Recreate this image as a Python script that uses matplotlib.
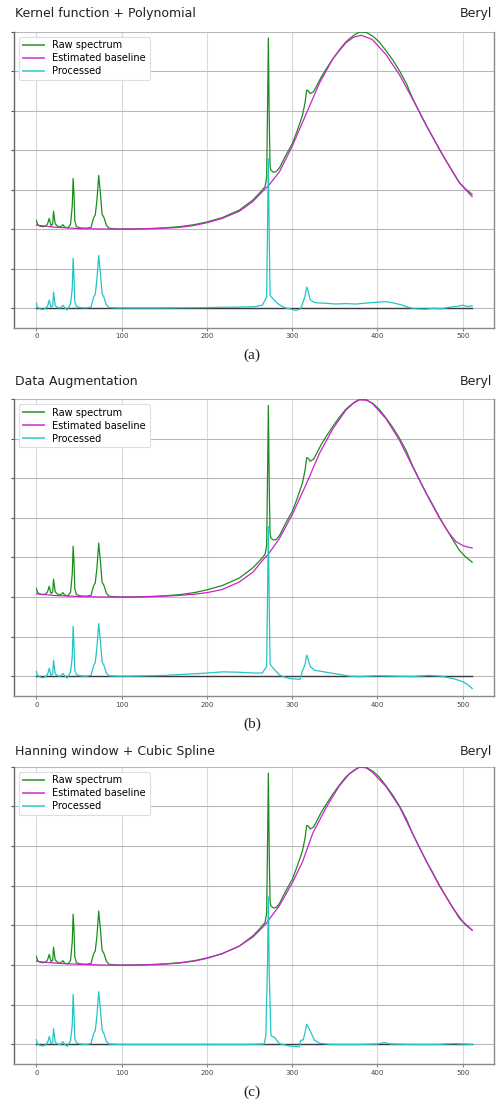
import matplotlib.pyplot as plt

# ---- data (x = channel index, y = intensity in grid units)
raw_x = [0, 1, 4, 8, 11, 13, 15, 17, 19, 20, 22, 25, 28, 31, 33, 37, 40, 42, 43, 44,
         45, 47, 51, 58, 64, 67, 69, 71, 73, 75, 77, 79, 82, 85, 95, 110, 130, 150,
         168, 185, 200, 218, 238, 254, 262, 268, 270, 271, 272, 273, 274, 275, 278,
         281, 285, 292, 300, 306, 312, 315, 317, 319, 321, 325, 328, 334, 340, 348,
         355, 362, 367, 373, 379, 387, 395, 402, 410, 418, 426, 434, 441, 449, 457,
         465, 473, 481, 488, 496, 503, 511]
raw_y = [2.22, 2.12, 2.07, 2.06, 2.08, 2.13, 2.27, 2.09, 2.12, 2.45, 2.13, 2.07, 2.05,
         2.11, 2.05, 2.03, 2.12, 2.6, 3.28, 2.9, 2.2, 2.06, 2.03, 2.02, 2.04, 2.28,
         2.36, 2.75, 3.36, 2.9, 2.37, 2.3, 2.1, 2.02, 2.0, 2.0, 2.01, 2.03, 2.06, 2.11,
         2.18, 2.29, 2.48, 2.74, 2.92, 3.07, 3.3, 5.0, 6.84, 4.8, 3.6, 3.49, 3.44,
         3.45, 3.55, 3.85, 4.16, 4.5, 4.88, 5.2, 5.52, 5.5, 5.43, 5.48, 5.6, 5.85,
         6.06, 6.32, 6.53, 6.72, 6.82, 6.92, 6.99, 6.98, 6.88, 6.74, 6.52, 6.28, 6.0,
         5.68, 5.32, 4.97, 4.63, 4.32, 4.0, 3.71, 3.46, 3.18, 3.02, 2.88]

base_a_x = [0, 20, 50, 80, 110, 140, 167, 185, 200, 218, 238, 254, 265, 273, 285, 300,
            316, 332, 348, 363, 372, 381, 394, 410, 426, 441, 457, 465, 481, 496, 511]
base_a_y = [2.1, 2.05, 2.01, 2.0, 2.0, 2.01, 2.04, 2.09, 2.16, 2.27, 2.45, 2.7, 2.95,
            3.12, 3.45, 4.1, 4.9, 5.7, 6.33, 6.72, 6.86, 6.91, 6.8, 6.42, 5.9, 5.3,
            4.64, 4.32, 3.71, 3.17, 2.82]

base_b_x = [0, 20, 50, 80, 110, 140, 167, 185, 200, 218, 238, 254, 267, 272, 285, 300,
            316, 332, 348, 363, 372, 379, 387, 394, 410, 426, 441, 457, 472, 484, 492,
            500, 506, 511]
base_b_y = [2.08, 2.04, 2.01, 2.0, 2.0, 2.01, 2.04, 2.07, 2.11, 2.19, 2.38, 2.63, 2.97,
            3.08, 3.48, 4.08, 4.83, 5.63, 6.26, 6.72, 6.9, 6.98, 6.97, 6.89, 6.5, 5.95,
            5.3, 4.62, 4.02, 3.61, 3.4, 3.3, 3.26, 3.24]

base_c_x = [0, 10, 30, 50, 80, 110, 140, 167, 185, 200, 218, 238, 254, 262, 269, 285,
            300, 312, 317, 324, 340, 355, 367, 379, 387, 394, 410, 426, 441, 457, 472,
            488, 500, 511]
base_c_y = [2.1, 2.07, 2.04, 2.02, 2.0, 2.0, 2.01, 2.05, 2.1, 2.17, 2.29, 2.48, 2.71,
            2.88, 3.04, 3.5, 4.07, 4.6, 4.9, 5.32, 5.98, 6.51, 6.82, 6.99, 6.97, 6.86,
            6.5, 5.98, 5.32, 4.63, 4.02, 3.45, 3.1, 2.88]

# processed: low-channel peaks are the same in all three panels
proc_left_x = [0, 1, 4, 8, 11, 13, 15, 17, 19, 20, 22, 25, 28, 31, 33, 36, 40, 42, 43,
               44, 45, 47, 51, 58, 64, 67, 69, 71, 73, 75, 77, 79, 82, 85, 95]
proc_left_y = [0.12, 0.02, -0.02, -0.04, 0.0, 0.05, 0.2, 0.02, 0.05, 0.4, 0.06, 0.01,
               0.0, 0.07, 0.01, -0.05, 0.1, 0.5, 1.26, 0.8, 0.15, 0.04, 0.01, 0.0, 0.02,
               0.27, 0.35, 0.75, 1.33, 0.88, 0.36, 0.28, 0.08, 0.01, 0.0]

proc_a_x = [150, 200, 230, 255, 265, 270, 271, 272, 273, 274, 277, 281, 285, 292, 297,
            304, 310, 313, 315, 317, 319, 321, 325, 328, 340, 350, 363, 375, 390, 402,
            410, 418, 428, 437, 445, 455, 465, 475, 485, 493, 500, 505, 511]
proc_a_y = [0.0, 0.01, 0.02, 0.03, 0.07, 0.28, 2.0, 3.78, 1.8, 0.32, 0.24, 0.15, 0.08,
            0.0, -0.02, -0.06, -0.02, 0.17, 0.3, 0.53, 0.4, 0.21, 0.15, 0.13, 0.12,
            0.1, 0.11, 0.1, 0.13, 0.15, 0.16, 0.13, 0.08, 0.01, -0.02, -0.03, -0.01,
            -0.02, 0.02, 0.04, 0.07, 0.04, 0.05]

proc_b_x = [110, 130, 150, 167, 185, 200, 218, 238, 254, 265, 270, 271, 272, 273, 274,
            279, 285, 292, 297, 304, 309, 312, 315, 317, 319, 321, 326, 332, 340, 351,
            360, 367, 380, 400, 420, 440, 460, 475, 484, 492, 500, 505, 511]
proc_b_y = [0.0, 0.01, 0.02, 0.04, 0.06, 0.08, 0.11, 0.1, 0.08, 0.08, 0.25, 2.0, 3.78,
            1.8, 0.3, 0.17, 0.03, -0.03, -0.06, -0.07, -0.08, 0.13, 0.3, 0.53, 0.4,
            0.25, 0.15, 0.13, 0.1, 0.06, 0.03, 0.0, -0.01, 0.01, 0.0, -0.01, 0.02, 0.0,
            -0.04, -0.08, -0.14, -0.2, -0.31]

proc_c_x = [110, 150, 200, 250, 267, 269, 271, 272, 273, 275, 279, 285, 297, 304, 308,
            310, 313, 315, 317, 320, 326, 332, 345, 380, 400, 408, 415, 440, 470, 490,
            511]
proc_c_y = [0.0, 0.0, 0.0, 0.0, 0.01, 0.22, 2.0, 3.72, 1.8, 0.22, 0.18, 0.02, -0.04,
            -0.05, -0.06, 0.1, 0.12, 0.3, 0.51, 0.39, 0.11, 0.03, 0.0, 0.0, 0.01, 0.05,
            0.01, 0.0, 0.0, 0.02, 0.0]

titles = ['Kernel function + Polynomial', 'Data Augmentation',
          'Hanning window + Cubic Spline']
captions = ['(a)', '(b)', '(c)']
sample = 'Beryl'
x_ticks = [0, 100, 200, 300, 400, 500]
y_ticks = [0, 1, 2, 3, 4, 5, 6, 7]

baselines = [(base_a_x, base_a_y), (base_b_x, base_b_y), (base_c_x, base_c_y)]
processed = [(proc_left_x + proc_a_x, proc_left_y + proc_a_y),
             (proc_left_x + proc_b_x, proc_left_y + proc_b_y),
             (proc_left_x + proc_c_x, proc_left_y + proc_c_y)]

W, H = 501, 1106
fig = plt.figure(figsize=(W / 100, H / 100), dpi=100)

# axes boxes in pixels: (top, bottom), plus title and caption rows
boxes = [(31.7, 327.7), (399, 696), (766.7, 1064.3)]
title_rows = [13, 382, 752]
caption_rows = [355, 724, 1092]
left_px, right_px = 14.3, 494.3

for ii in range(3):
    top, bottom = boxes[ii]
    ax = fig.add_axes([left_px / W, 1 - bottom / H, (right_px - left_px) / W,
                       (bottom - top) / H])

    ax.plot([0, 511], [0, 0], color='#3a3a3a', lw=1.0, zorder=2)
    ax.plot(raw_x, raw_y, color='#1c8c1c', lw=0.9, label='Raw spectrum', zorder=3)
    bx, by = baselines[ii]
    ax.plot(bx, by, color='#cc22cc', lw=0.9, label='Estimated baseline', zorder=4)
    px, py = processed[ii]
    ax.plot(px, py, color='#22c4c8', lw=0.9, label='Processed', zorder=5)

    ax.set_xlim(-26, 537)
    ax.set_ylim(-0.5, 7.0)
    ax.set_xticks(x_ticks)
    ax.set_yticks(y_ticks)
    ax.set_yticklabels([])
    ax.tick_params(axis='x', labelsize=5, length=2, color='#888888',
                   labelcolor='#444444', pad=2)
    ax.tick_params(axis='y', length=2.5, color='#555555')
    ax.grid(axis='x', color='#d9d9d9', lw=0.8)
    ax.grid(axis='y', color='#b8b8b8', lw=0.8)
    ax.set_axisbelow(True)
    for side in ['left', 'bottom', 'right']:
        ax.spines[side].set_color('#8a8a8a')
        ax.spines[side].set_linewidth(1.0)
    ax.spines['left'].set_color('#666666')
    ax.spines['top'].set_visible(False)

    leg = ax.legend(loc='upper left', fontsize=7, handlelength=2.2,
                    labelspacing=0.3, borderpad=0.4, framealpha=1)
    leg.get_frame().set_edgecolor('#dddddd')
    leg.get_frame().set_linewidth(0.8)
    for line in leg.get_lines():
        line.set_linewidth(1.4)
        line.set_alpha(0.75)

    fig.text(15 / W, 1 - title_rows[ii] / H, titles[ii], fontsize=9,
             ha='left', va='center', color='#222222')
    fig.text(492 / W, 1 - title_rows[ii] / H, sample, fontsize=9,
             ha='right', va='center', color='#222222')
    fig.text(252 / W, 1 - caption_rows[ii] / H, captions[ii], fontsize=11,
             ha='center', va='center', family='Liberation Serif', color='#222222')

fig.savefig('out.png', dpi=100)
